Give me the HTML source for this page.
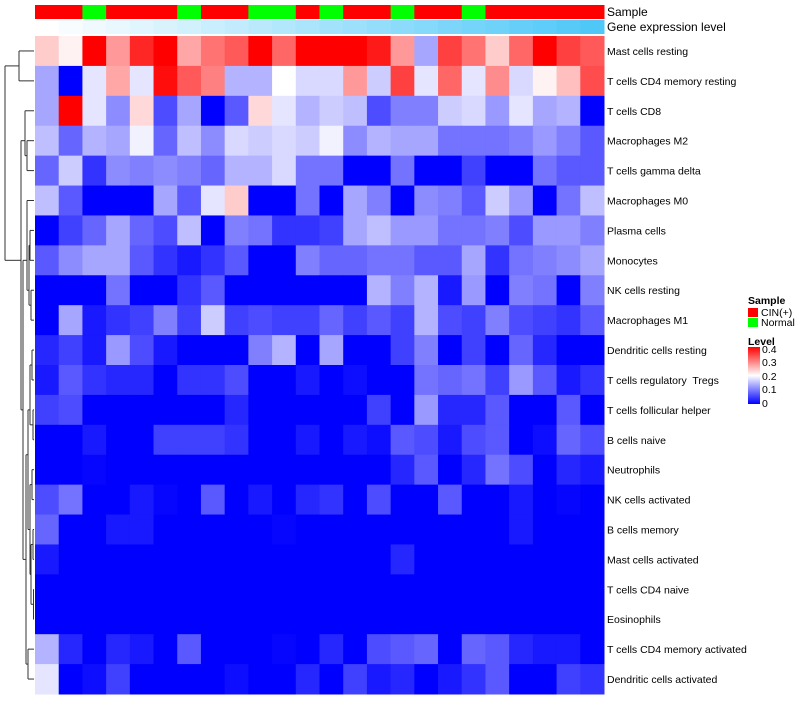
<!DOCTYPE html>
<html><head><meta charset="utf-8"><style>
body{margin:0;background:#fff;width:800px;height:700px;overflow:hidden;font-family:"Liberation Sans",sans-serif}
svg text{font-family:"Liberation Sans",sans-serif;fill:#000;white-space:pre}
</style></head><body>
<svg id="chart" width="800" height="700" xmlns="http://www.w3.org/2000/svg">
<defs><linearGradient id="lg" x1="0" y1="1" x2="0" y2="0"><stop offset="0" stop-color="#0000ff"/><stop offset="0.5" stop-color="#ffffff"/><stop offset="1" stop-color="#ff0000"/></linearGradient></defs>
<g id="dendro" stroke="#333" fill="none" stroke-width="1"></g>
<g id="cells"></g>
<g id="ann"></g>
<g id="labels"></g>
<text x="607" y="16" font-size="12">Sample</text>
<text x="607" y="31" font-size="12">Gene expression level</text>
<g font-size="10.5">
<text x="748" y="304" font-weight="bold">Sample</text>
<rect x="748" y="308" width="10" height="9" fill="#ff0000"/>
<text x="761" y="316">CIN(+)</text>
<rect x="748" y="318" width="10" height="9" fill="#00ff00"/>
<text x="761" y="326">Normal</text>
<text x="748" y="345" font-weight="bold">Level</text>
<rect x="748" y="347" width="12" height="57" fill="url(#lg)"/>
<text x="762" y="353">0.4</text>
<text x="762" y="366">0.3</text>
<text x="762" y="380">0.2</text>
<text x="762" y="393">0.1</text>
<text x="762" y="407">0</text>
</g>
</svg>
<script>
const rowNames=["Mast cells resting","T cells CD4 memory resting","T cells CD8","Macrophages M2","T cells gamma delta","Macrophages M0","Plasma cells","Monocytes","NK cells resting","Macrophages M1","Dendritic cells resting","T cells regulatory  Tregs","T cells follicular helper","B cells naive","Neutrophils","NK cells activated","B cells memory","Mast cells activated","T cells CD4 naive","Eosinophils","T cells CD4 memory activated","Dendritic cells activated"];
const sampleGroup=["C","C","N","C","C","C","N","C","C","N","N","C","N","C","C","N","C","C","N","C","C","C","C","C"];
const geneLevel=[0,1,2,3,4,5,6,7,8,9,10,11,12,13,14,15,16,17,18,19,20,21,22,23];
const r1=[0.24,0.21,0.4,0.28,0.37,0.4,0.27,0.31,0.33,0.4,0.32,0.4,0.4,0.4,0.38,0.28,0.13,0.35,0.31,0.24,0.32,0.4,0.35,0.33];
const r2=[0.13,0,0.18,0.27,0.18,0.39,0.33,0.3,0.14,0.14,0.2,0.17,0.17,0.28,0.16,0.35,0.18,0.32,0.18,0.29,0.17,0.21,0.25,0.34];
const r3=[0.13,0.4,0.18,0.11,0.23,0.06,0.13,0,0.07,0.23,0.18,0.14,0.16,0.15,0.06,0.1,0.1,0.16,0.17,0.12,0.18,0.13,0.14,0];
const r4=[0.15,0.08,0.14,0.13,0.19,0.08,0.15,0.11,0.17,0.16,0.17,0.16,0.19,0.11,0.14,0.13,0.13,0.09,0.09,0.09,0.1,0.12,0.1,0.07];
const r5=[0.08,0.16,0.04,0.11,0.1,0.11,0.1,0.08,0.14,0.14,0.17,0.09,0.09,0,0,0.09,0,0,0.05,0,0,0.09,0.07,0.07];
const r6=[0.15,0.07,0,0,0,0.13,0.07,0.18,0.24,0,0,0.09,0,0.13,0.1,0,0.11,0.1,0.07,0.16,0.12,0,0.09,0.15];
const r7=[0,0.05,0.08,0.13,0.08,0.06,0.15,0,0.1,0.09,0.04,0.04,0.05,0.13,0.15,0.12,0.12,0.09,0.09,0.1,0.06,0.12,0.12,0.1];
const r8=[0.07,0.11,0.13,0.13,0.07,0.04,0.02,0.04,0.07,0,0,0.1,0.08,0.08,0.09,0.09,0.07,0.07,0.13,0.04,0.09,0.1,0.11,0.13];
const r9=[0,0,0,0.09,0,0,0.04,0.07,0,0,0,0,0,0,0.14,0.1,0.14,0.02,0.12,0,0.1,0.09,0,0.1];
const r10=[0,0.13,0.02,0.04,0.05,0.1,0.05,0.16,0.05,0.06,0.05,0.05,0.08,0.05,0.07,0.05,0.14,0.06,0.05,0.1,0.06,0.05,0.04,0.07];
const r11=[0.03,0.05,0.02,0.12,0.06,0.02,0,0,0,0.1,0.14,0,0.13,0,0,0.05,0.1,0,0.05,0,0.08,0.03,0,0];
const r12=[0.02,0.07,0.04,0.03,0.03,0,0.04,0.04,0.06,0,0,0.02,0,0.01,0,0,0.09,0.08,0.09,0.05,0.12,0.07,0.02,0.04];
const r13=[0.05,0.06,0,0,0,0,0,0,0.03,0,0,0,0,0,0.05,0,0.12,0.03,0.03,0.07,0,0,0.07,0];
const r14=[0,0,0.02,0,0,0.05,0.05,0.05,0.04,0,0,0.02,0,0.02,0.01,0.07,0.06,0.02,0.06,0.07,0,0.01,0.08,0.06];
const r15=[0,0,0.005,0,0,0,0,0,0,0,0,0,0,0,0,0.03,0.07,0,0.03,0.09,0.06,0,0.03,0.02];
const r16=[0.06,0.09,0,0,0.02,0.005,0,0.07,0,0.02,0,0.03,0.04,0,0.06,0,0,0.07,0,0,0.02,0,0.005,0];
const r17=[0.08,0,0,0.02,0.02,0,0,0,0,0,0.005,0,0,0,0,0,0,0,0,0,0.02,0,0,0];
const r18=[0.02,0,0,0,0,0,0,0,0,0,0,0,0,0,0,0.03,0,0,0,0,0,0,0,0];
const r19=[0,0,0,0,0,0,0,0,0,0,0,0,0,0,0,0,0,0,0,0,0,0,0,0];
const r20=[0,0,0,0,0,0,0,0,0,0,0,0,0,0,0,0,0,0,0,0,0,0,0,0];
const r21=[0.14,0.03,0,0.03,0.02,0,0.07,0,0,0,0.005,0,0.03,0,0.06,0.07,0.08,0,0.08,0.07,0.03,0.02,0.02,0];
const r22=[0.18,0,0.01,0.05,0,0,0,0,0.01,0,0,0.03,0,0.05,0.02,0.03,0,0.02,0.04,0.07,0,0,0.05,0.04];
const values=[r1,r2,r3,r4,r5,r6,r7,r8,r9,r10,r11,r12,r13,r14,r15,r16,r17,r18,r19,r20,r21,r22];

const X0=35,X1=604,Y0=36,Y1=694;
const nC=values[0].length,nR=values.length;
const cw=(X1-X0)/nC,rh=(Y1-Y0)/nR;
const xS=i=>X0+i*cw, yS=j=>Y0+j*rh;
function col(v){let t=Math.max(0,Math.min(0.4,v))/0.4;let r,g,b;
 if(t<0.5){let s=t/0.5;r=255*s;g=255*s;b=255;}else{let s=(t-0.5)/0.5;r=255;g=255*(1-s);b=255*(1-s);}
 return `rgb(${Math.round(r)},${Math.round(g)},${Math.round(b)})`;}
const NS="http://www.w3.org/2000/svg";
const cells=document.getElementById('cells');
values.forEach((row,j)=>row.forEach((v,i)=>{
 const r=document.createElementNS(NS,'rect');
 r.setAttribute('x',xS(i));r.setAttribute('y',yS(j));
 r.setAttribute('width',cw+0.5);r.setAttribute('height',rh+0.5);
 r.setAttribute('fill',col(v));
 
 
 cells.appendChild(r);}));
const ann=document.getElementById('ann');
const gMax=Math.max(...geneLevel);
sampleGroup.forEach((s,i)=>{
 const r=document.createElementNS(NS,'rect');
 r.setAttribute('x',xS(i));r.setAttribute('y',5);r.setAttribute('width',cw+0.5);r.setAttribute('height',14);
 r.setAttribute('fill',s==='C'?'#ff0000':'#00ff00');
 
 
 ann.appendChild(r);
 const g=document.createElementNS(NS,'rect');
 const t=geneLevel[i]/gMax;
 g.setAttribute('x',xS(i));g.setAttribute('y',20);g.setAttribute('width',cw+0.5);g.setAttribute('height',14);
 g.setAttribute('fill',`rgb(${Math.round(255-176*t)},${Math.round(255-55*t)},${Math.round(255-7*t)})`);
 
 
 ann.appendChild(g);});
const labels=document.getElementById('labels');
rowNames.forEach((n,j)=>{
 const t=document.createElementNS(NS,'text');
 t.setAttribute('x',607);t.setAttribute('y',yS(j)+rh/2+4);t.setAttribute('font-size','10.5');
 t.textContent=n;
 
 
 labels.appendChild(t);});
const d=document.getElementById('dendro');
const yc=j=>yS(j)+rh/2;
function seg(x1,y1,x2,y2){const l=document.createElementNS(NS,'line');l.setAttribute('x1',x1);l.setAttribute('y1',y1);l.setAttribute('x2',x2);l.setAttribute('y2',y2);d.appendChild(l);}
function link(xa,ya,xb,yb,xm){seg(xa,ya,xm,ya);seg(xb,yb,xm,yb);seg(xm,ya,xm,yb);}
link(34,yc(0),34,yc(1),19);
link(34,yc(3),34,yc(4),27);
link(34,yc(2),27,(yc(3)+yc(4))/2,25);
link(34,yc(6),34,yc(7),30);
link(34,yc(8),34,yc(9),31);
link(30,(yc(6)+yc(7))/2,31,(yc(8)+yc(9))/2,29);
link(34,yc(5),29,yc(8),27);
link(34,yc(10),34,yc(11),32);
link(34,yc(12),34,yc(13),33);
link(32,yc(10)+rh/2,33,yc(12)+rh/2,30);
link(34,yc(14),34,yc(15),32);
link(34,yc(16),34,yc(17),33);
link(34,yc(18),34,yc(19),33.5);
link(33,yc(16)+rh/2,33.5,yc(18)+rh/2,31);
link(32,yc(14)+rh/2,31,yc(17)+rh/2,30);
link(34,yc(20),34,yc(21),28);
link(30,yc(11)+rh,30,yc(16),28);
link(28,yc(13)+rh/2,28,yc(20)+rh/2,26);
link(27,yc(7),26,yc(17),23);
link(25,yc(3),23,yc(12),21);
link(19,yc(0)+rh/2,21,yc(7),5);
</script>
</body></html>
